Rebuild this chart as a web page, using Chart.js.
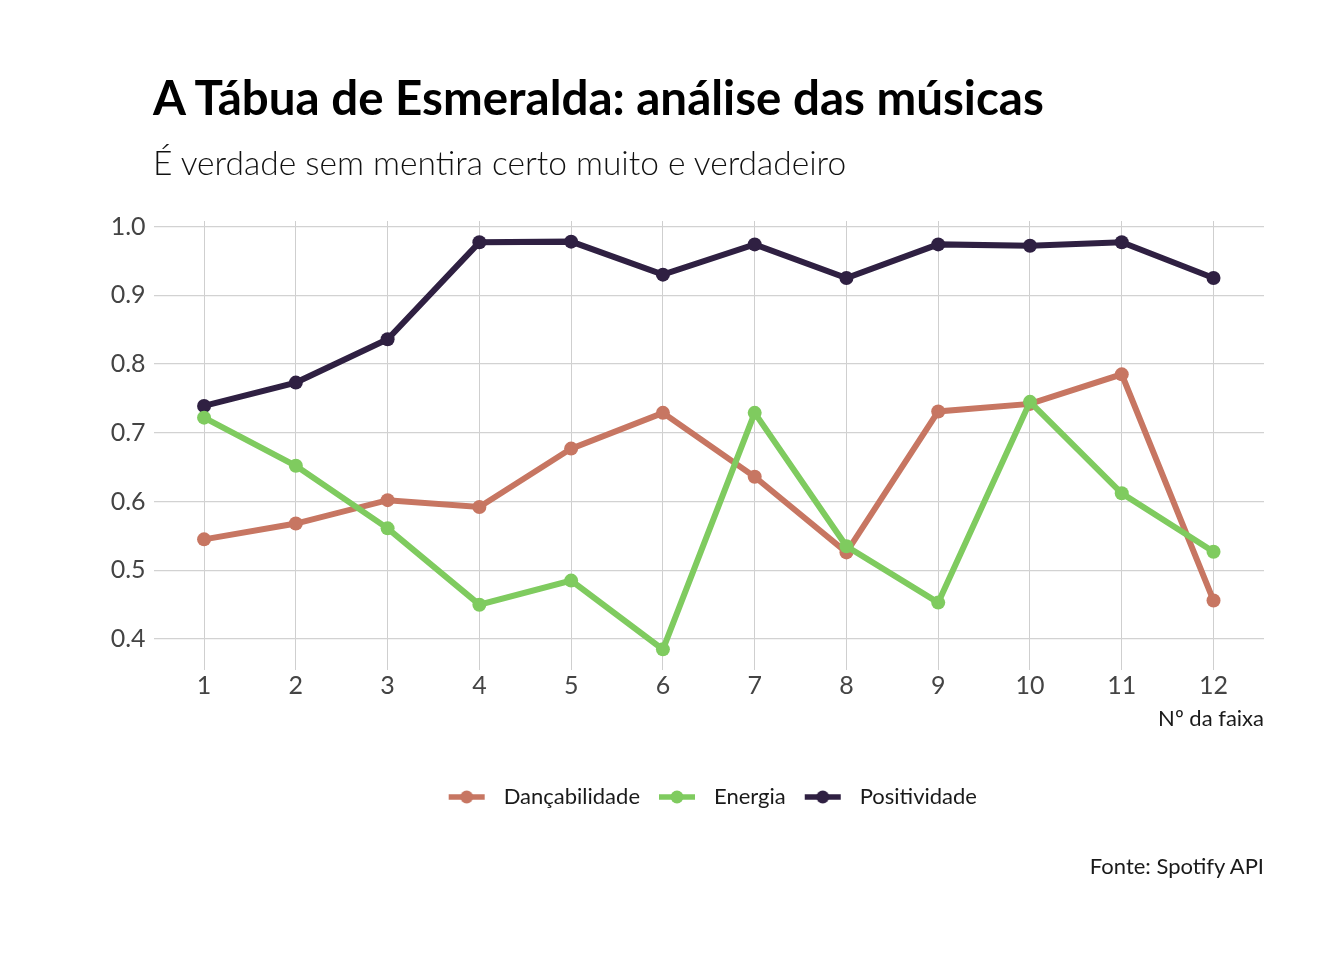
<!DOCTYPE html>
<html><head><meta charset="utf-8">
<script src="https://cdn.jsdelivr.net/npm/chart.js@4.4.1/dist/chart.umd.min.js"></script>
<style>
html,body{margin:0;padding:0;background:#fff;}
#wrap{position:relative;width:1344px;height:960px;overflow:hidden;font-family:Lato,sans-serif;}
canvas{position:absolute;left:0;top:0;}
.t{position:absolute;white-space:nowrap;line-height:1;}
#title{left:153px;top:73px;font-size:47.5px;font-weight:700;color:#000;}
#sub{left:153px;top:146px;font-size:33.5px;font-weight:300;color:#111;}
#cap{right:80px;top:855px;font-size:22px;font-weight:400;color:#1a1a1a;}
</style></head>
<body><div id="wrap">
<canvas id="c" width="1344" height="960"></canvas>
<div class="t" id="title">A Tábua de Esmeralda: análise das músicas</div>
<div class="t" id="sub">É verdade sem mentira certo muito e verdadeiro</div>
<div class="t" id="cap">Fonte: Spotify API</div>
</div>
<script>
const tracks = [1,2,3,4,5,6,7,8,9,10,11,12];
const seriesNames = ['Dançabilidade','Energia','Positividade'];
const dancabilidade = [0.545,0.568,0.602,0.592,0.677,0.729,0.636,0.526,0.731,0.742,0.785,0.456];
const energia = [0.722,0.652,0.561,0.450,0.485,0.385,0.729,0.535,0.453,0.745,0.612,0.527];
const positividade = [0.739,0.773,0.836,0.977,0.978,0.930,0.974,0.925,0.974,0.972,0.977,0.925];
const yTicks = [0.4,0.5,0.6,0.7,0.8,0.9,1.0];
const colors = ['#C77662','#7FCB5F','#2F2042'];

function keyImage(col){
  const cv = document.createElement('canvas');
  cv.width = 38; cv.height = 16;
  const g = cv.getContext('2d');
  g.strokeStyle = col; g.lineWidth = 5.5;
  g.beginPath(); g.moveTo(1,8); g.lineTo(37,8); g.stroke();
  g.fillStyle = col; g.beginPath(); g.arc(19,8,6.5,0,Math.PI*2); g.fill();
  return cv;
}
const keys = colors.map(keyImage);

const vals = [dancabilidade, energia, positividade];
const datasets = seriesNames.map((n,i)=>({
  label:n,
  data: tracks.map((t,j)=>({x:t,y:vals[i][j]})),
  borderColor: colors[i], backgroundColor: colors[i],
  borderWidth: 6, pointRadius: 7, pointHoverRadius: 7,
  pointBorderWidth: 0, tension: 0,
  order: [2,0,1][i]
}));

new Chart(document.getElementById('c'), {
  type:'line',
  data:{datasets},
  options:{
    responsive:false, animation:false, devicePixelRatio:1,
    layout:{padding:{left:100,right:80,top:221,bottom:142}},
    plugins:{
      tooltip:{enabled:false},
      title:{display:false},
      legend:{
        position:'bottom', fullSize:false,
        labels:{
          usePointStyle:true, pointStyleWidth:52, boxHeight:16,
          padding:11, color:'#1a1a1a',
          font:{family:'Lato', size:22},
          generateLabels:(chart)=>chart.data.datasets.map((d,i)=>({
            text:d.label, pointStyle:keys[i], fillStyle:colors[i], strokeStyle:colors[i],
            lineWidth:0, datasetIndex:i, hidden:false, fontColor:'#1a1a1a'
          }))
        }
      }
    },
    scales:{
      x:{
        type:'linear', min:0.45, max:12.55,
        afterBuildTicks:(s)=>{ s.ticks = tracks.map(v=>({value:v})); },
        afterFit:(s)=>{ s.height = 105; },
        border:{display:false},
        grid:{color:'#cfcfcf', lineWidth:1, drawTicks:false},
        ticks:{padding:1, color:'#444', font:{family:'Lato', size:25}, callback:(v)=>String(v)},
        title:{display:true, text:'Nº da faixa', align:'end', color:'#1a1a1a',
          font:{family:'Lato', size:22}, padding:{top:0,bottom:43}}
      },
      y:{
        type:'linear', min:0.355, max:1.008,
        afterBuildTicks:(s)=>{ s.ticks = yTicks.map(v=>({value:v})); },
        afterFit:(s)=>{ s.width = 53.6; },
        border:{display:false},
        grid:{color:'#d2d2d2', lineWidth:1.3, drawTicks:false},
        ticks:{padding:8, color:'#444', font:{family:'Lato', size:25}, callback:(v)=>v.toFixed(1)}
      }
    }
  }
});
</script>
</body></html>
